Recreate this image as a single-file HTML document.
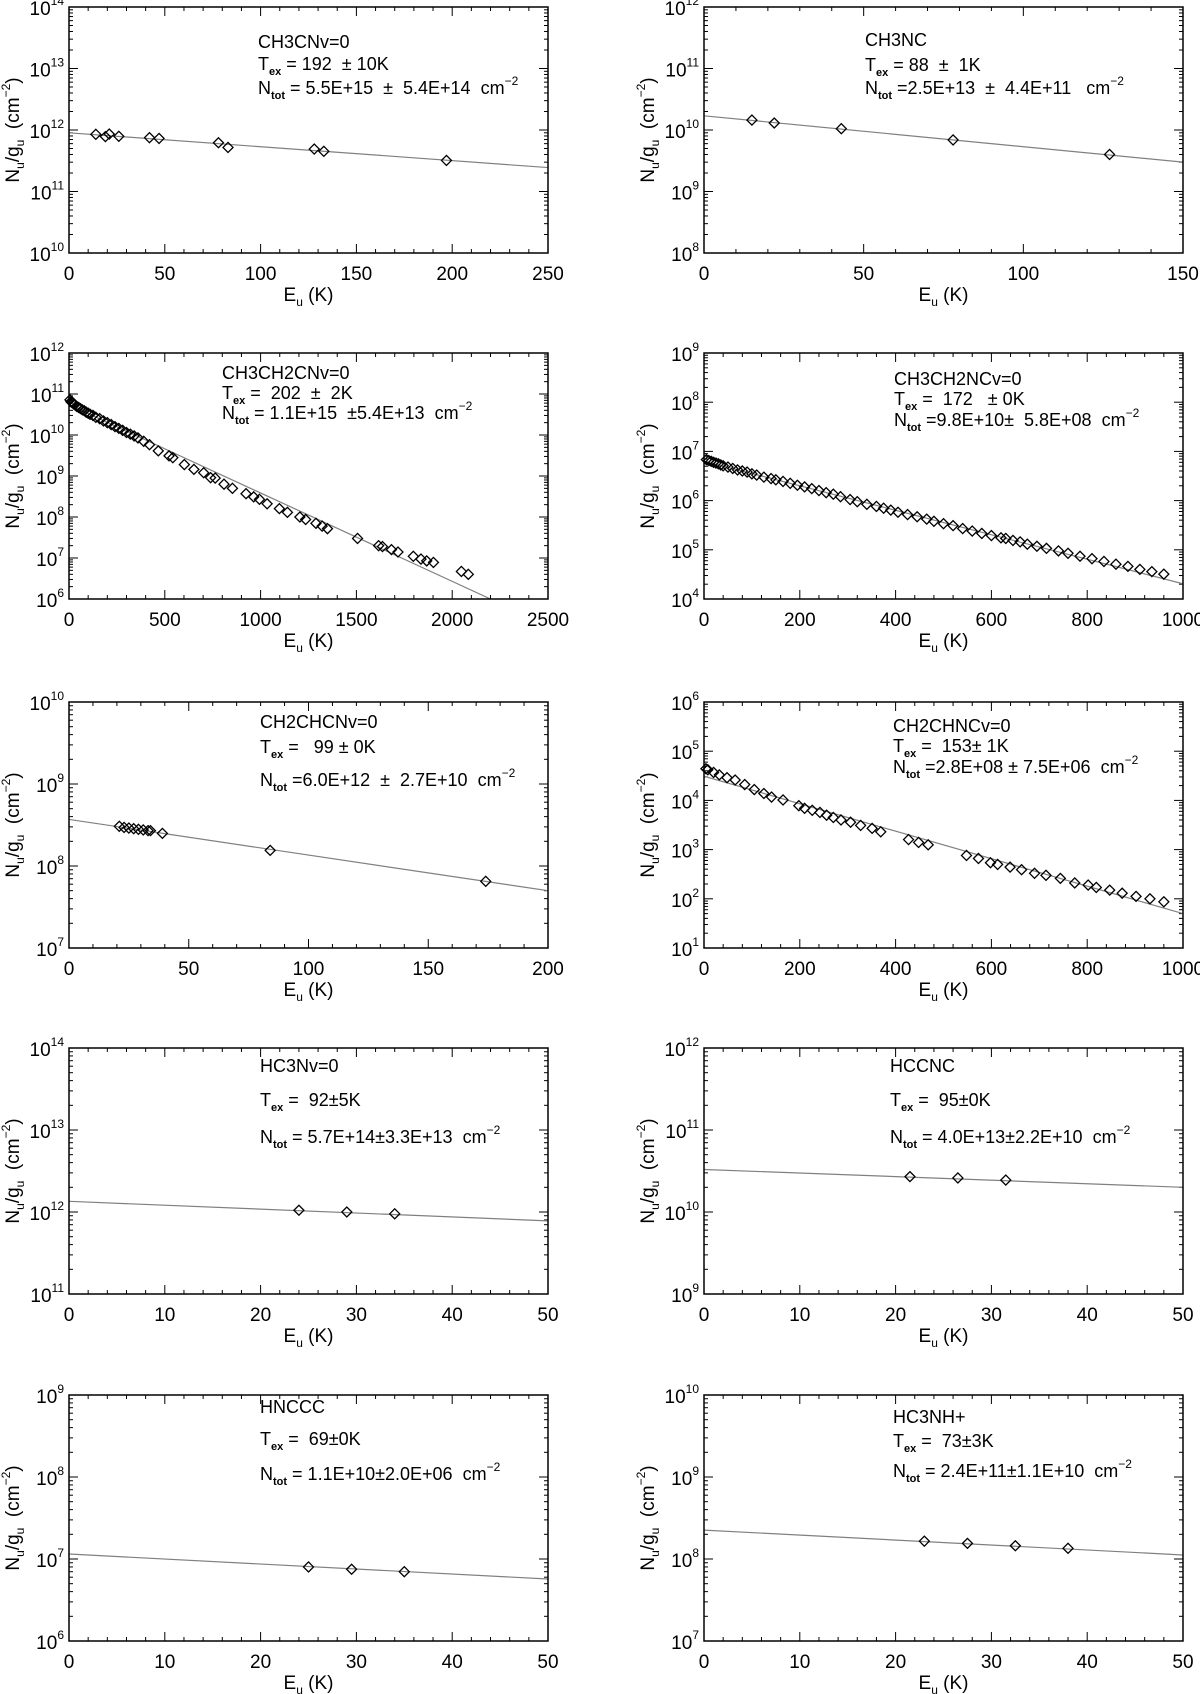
<!DOCTYPE html>
<html><head><meta charset="utf-8"><style>
html,body{margin:0;padding:0;background:#fff}
svg{display:block}
text{font-family:"Liberation Sans",sans-serif;fill:#000;white-space:pre}
</style></head><body>
<svg id="fig" width="1200" height="1694" viewBox="0 0 1200 1694" xmlns="http://www.w3.org/2000/svg" xml:space="preserve"></svg>
<script>
// ---- data (energies in K, N_u/g_u in cm^-2) ----
const p1E = [14,19,21,26,42,47,78,83,128,133,197];
const p1N = [8.5e11,7.8e11,8.6e11,7.9e11,7.5e11,7.3e11,6.2e11,5.2e11,4.9e11,4.5e11,3.2e11];
const p1LineE = [0,250];
const p1LineN = [9e11,2.45e11];

const p2E = [15,22,43,78,127];
const p2N = [1.45e10,1.3e10,1.05e10,6.9e9,4.0e9];
const p2LineE = [0,150];
const p2LineN = [1.7e10,3.0e9];

const p3E = [5,10,15,20,25,30,40,50,60,70,80,90,100,110,125,140,160,180,200,220,240,260,280,300,320,340,360,390,420,466,522,542,602,652,703,739,763,809,853,924,964,994,1034,1098,1140,1205,1235,1289,1321,1349,1506,1616,1636,1683,1717,1797,1837,1867,1902,2048,2084];
const p3N = [7.2e10,6.5e10,6.2e10,6e10,5.7e10,5.5e10,5e10,4.7e10,4.4e10,4.1e10,3.9e10,3.6e10,3.4e10,3.2e10,3.0e10,2.7e10,2.5e10,2.2e10,2.0e10,1.8e10,1.6e10,1.45e10,1.3e10,1.15e10,1.05e10,9.5e9,8.5e9,7e9,5.8e9,4.1e9,3.1e9,2.8e9,1.9e9,1.45e9,1.2e9,9.1e8,8.9e8,6.3e8,5e8,3.7e8,3.1e8,2.7e8,2.1e8,1.6e8,1.3e8,1e8,8.7e7,7e7,6e7,5.2e7,3e7,2e7,1.9e7,1.6e7,1.4e7,1.1e7,9.4e6,8.5e6,7.8e6,4.7e6,4e6];
const p3LineE = [0,2200];
const p3LineN = [5.5e10,1e6];

const p4E = [5,10,15,20,25,30,35,40,50,60,70,80,90,100,110,125,140,150,165,180,195,210,225,240,255,270,285,305,320,340,360,375,390,405,425,445,465,480,500,520,540,560,580,600,620,630,645,660,675,695,715,740,760,785,810,835,860,885,910,935,960];
const p4N = [6.8e6,6.5e6,6.3e6,6.0e6,5.8e6,5.6e6,5.3e6,5.1e6,4.8e6,4.5e6,4.2e6,4.0e6,3.8e6,3.5e6,3.3e6,3.0e6,2.8e6,2.65e6,2.45e6,2.25e6,2.05e6,1.9e6,1.75e6,1.6e6,1.45e6,1.35e6,1.2e6,1.05e6,9.5e5,8.4e5,7.6e5,7e5,6.4e5,5.8e5,5.2e5,4.7e5,4.2e5,3.8e5,3.4e5,3.1e5,2.7e5,2.4e5,2.15e5,1.95e5,1.75e5,1.7e5,1.55e5,1.45e5,1.3e5,1.18e5,1.07e5,9.5e4,8.5e4,7.4e4,6.6e4,5.8e4,5.1e4,4.6e4,4e4,3.6e4,3.2e4];
const p4LineE = [0,1000];
const p4LineN = [6.3e6,2.04e4];

const p5E = [21,23,25,27,29,31,33,34,39,84,174];
const p5N = [3.05e8,2.95e8,2.9e8,2.85e8,2.8e8,2.75e8,2.7e8,2.7e8,2.5e8,1.55e8,6.5e7];
const p5LineE = [0,200];
const p5LineN = [3.7e8,5e7];

const p6E = [4,8,20,32,48,65,85,105,125,141,165,198,210,226,242,256,270,286,306,327,351,369,427,448,468,548,573,598,613,639,663,690,714,744,774,802,819,847,873,902,931,960];
const p6N = [4.4e4,4.2e4,3.7e4,3.3e4,2.9e4,2.6e4,2.1e4,1.66e4,1.38e4,1.17e4,1.02e4,7.8e3,6.9e3,6.3e3,5.7e3,5.0e3,4.5e3,4.0e3,3.6e3,3.1e3,2.7e3,2.3e3,1.6e3,1.4e3,1.25e3,7.6e2,6.6e2,5.4e2,5.0e2,4.4e2,3.9e2,3.3e2,3.0e2,2.6e2,2.1e2,1.9e2,1.7e2,1.5e2,1.3e2,1.12e2,1e2,8.7e1];
const p6LineE = [0,1000];
const p6LineN = [3.1e4,50];

const p7E = [24,29,34];
const p7N = [1.05e12,1e12,9.5e11];
const p7LineE = [0,50];
const p7LineN = [1.35e12,7.8e11];

const p8E = [21.5,26.5,31.5];
const p8N = [2.7e10,2.6e10,2.45e10];
const p8LineE = [0,50];
const p8LineN = [3.3e10,2e10];

const p9E = [25,29.5,35];
const p9N = [8e6,7.5e6,7e6];
const p9LineE = [0,50];
const p9LineN = [1.15e7,5.7e6];

const p10E = [23,27.5,32.5,38];
const p10N = [1.65e8,1.55e8,1.45e8,1.35e8];
const p10LineE = [0,50];
const p10LineN = [2.25e8,1.12e8];

const xTicks1 = [0,50,100,150,200,250];
const xTicks2 = [0,50,100,150];
const xTicks3 = [0,500,1000,1500,2000,2500];
const xTicks4 = [0,200,400,600,800,1000];
const xTicks5 = [0,50,100,150,200];
const xTicks6 = [0,200,400,600,800,1000];
const xTicks50 = [0,10,20,30,40,50];

const yDecades1 = [10,14], yDecades2 = [8,12], yDecades3 = [6,12], yDecades4 = [4,9],
      yDecades5 = [7,10], yDecades6 = [1,6], yDecades7 = [11,14], yDecades8 = [9,12],
      yDecades9 = [6,9], yDecades10 = [7,10];

const labels1 = ["CH3CNv=0","192  \u00b1 10K","5.5E+15  \u00b1  5.4E+14  cm"];
const labels2 = ["CH3NC","88  \u00b1  1K","2.5E+13  \u00b1  4.4E+11   cm"];
const labels3 = ["CH3CH2CNv=0"," 202  \u00b1  2K","1.1E+15  \u00b15.4E+13  cm"];
const labels4 = ["CH3CH2NCv=0"," 172   \u00b1 0K","9.8E+10\u00b1  5.8E+08  cm"];
const labels5 = ["CH2CHCNv=0","  99 \u00b1 0K","6.0E+12  \u00b1  2.7E+10  cm"];
const labels6 = ["CH2CHNCv=0"," 153\u00b1 1K","2.8E+08 \u00b1 7.5E+06  cm"];
const labels7 = ["HC3Nv=0"," 92\u00b15K","5.7E+14\u00b13.3E+13  cm"];
const labels8 = ["HCCNC"," 95\u00b10K","4.0E+13\u00b12.2E+10  cm"];
const labels9 = ["HNCCC"," 69\u00b10K","1.1E+10\u00b12.0E+06  cm"];
const labels10 = ["HC3NH+"," 73\u00b13K","2.4E+11\u00b11.1E+10  cm"];

// ---- layout ----
const L = [69,548], R = [704,1183];
const rowsTop = [7,353,702,1048,1395], H = 246;
const panels = [
 {c:L,r:0,E:p1E,N:p1N,lE:p1LineE,lN:p1LineN,xt:xTicks1,yd:yDecades1,lab:labels1,tx:258,ty:[42,64,88],nEq:"= "},
 {c:R,r:0,E:p2E,N:p2N,lE:p2LineE,lN:p2LineN,xt:xTicks2,yd:yDecades2,lab:labels2,tx:865,ty:[40,65,88],nEq:"="},
 {c:L,r:1,E:p3E,N:p3N,lE:p3LineE,lN:p3LineN,xt:xTicks3,yd:yDecades3,lab:labels3,tx:222,ty:[373,393,413],nEq:"= "},
 {c:R,r:1,E:p4E,N:p4N,lE:p4LineE,lN:p4LineN,xt:xTicks4,yd:yDecades4,lab:labels4,tx:894,ty:[379,399,420],nEq:"="},
 {c:L,r:2,E:p5E,N:p5N,lE:p5LineE,lN:p5LineN,xt:xTicks5,yd:yDecades5,lab:labels5,tx:260,ty:[722,747,780],nEq:"="},
 {c:R,r:2,E:p6E,N:p6N,lE:p6LineE,lN:p6LineN,xt:xTicks6,yd:yDecades6,lab:labels6,tx:893,ty:[726,746,767],nEq:"="},
 {c:L,r:3,E:p7E,N:p7N,lE:p7LineE,lN:p7LineN,xt:xTicks50,yd:yDecades7,lab:labels7,tx:260,ty:[1066,1100,1137],nEq:"= "},
 {c:R,r:3,E:p8E,N:p8N,lE:p8LineE,lN:p8LineN,xt:xTicks50,yd:yDecades8,lab:labels8,tx:890,ty:[1066,1100,1137],nEq:"= "},
 {c:L,r:4,E:p9E,N:p9N,lE:p9LineE,lN:p9LineN,xt:xTicks50,yd:yDecades9,lab:labels9,tx:260,ty:[1407,1439,1474],nEq:"= "},
 {c:R,r:4,E:p10E,N:p10N,lE:p10LineE,lN:p10LineN,xt:xTicks50,yd:yDecades10,lab:labels10,tx:893,ty:[1417,1441,1471],nEq:"= "}
];

const NS = "http://www.w3.org/2000/svg";
const fig = document.getElementById("fig");
function mk(tag, attrs, parent){
  const e = document.createElementNS(NS, tag);
  for (const k in attrs) e.setAttribute(k, attrs[k]);
  (parent||fig).appendChild(e);
  return e;
}
function ts(parent, txt, attrs){
  const t = document.createElementNS(NS,"tspan");
  for (const k in (attrs||{})) t.setAttribute(k, attrs[k]);
  t.textContent = txt;
  parent.appendChild(t);
  return t;
}

panels.forEach((p, i) => {
  const x0 = p.c[0], x1 = p.c[1], y0 = rowsTop[p.r], y1 = y0 + H;
  const xmin = p.xt[0], xmax = p.xt[p.xt.length-1];
  const dmin = p.yd[0], dmax = p.yd[1];
  const xs = v => x0 + (v - xmin) / (xmax - xmin) * (x1 - x0);
  const ys = v => y1 - (Math.log10(v) - dmin) / (dmax - dmin) * (y1 - y0);
  const g = mk("g", {});
  
  
  const clipId = "clip" + i;
  const cp = mk("clipPath", {id: clipId}, g);
  mk("rect", {x:x0, y:y0, width:x1-x0, height:y1-y0}, cp);

  const tk = mk("g", {stroke:"#000","stroke-width":1}, g);
  
  
  const step = p.xt[1]-p.xt[0];
  for (let k = 0; k < p.xt.length; k++) {
    const X = xs(p.xt[k]);
    mk("line",{x1:X,y1:y1,x2:X,y2:y1-9},tk);
    mk("line",{x1:X,y1:y0,x2:X,y2:y0+9},tk);
    if (k < p.xt.length-1) for (let m=1;m<5;m++){
      const Xm = xs(p.xt[k]+step*m/5);
      mk("line",{x1:Xm,y1:y1,x2:Xm,y2:y1-4},tk);
      mk("line",{x1:Xm,y1:y0,x2:Xm,y2:y0+4},tk);
    }
    const tl = mk("text",{x:X,y:y1+27,"font-size":19,"text-anchor":"middle"},g);
    
    
    tl.textContent = p.xt[k];
  }
  for (let d = dmin; d <= dmax; d++) {
    const Y = ys(Math.pow(10,d));
    mk("line",{x1:x0,y1:Y,x2:x0+9,y2:Y},tk);
    mk("line",{x1:x1,y1:Y,x2:x1-9,y2:Y},tk);
    if (d < dmax) for (let m=2;m<10;m++){
      const Ym = ys(m*Math.pow(10,d));
      mk("line",{x1:x0,y1:Ym,x2:x0+4,y2:Ym},tk);
      mk("line",{x1:x1,y1:Ym,x2:x1-4,y2:Ym},tk);
    }
    const yl = mk("text",{x:x0-5,y:Y+8,"font-size":19,"text-anchor":"end"},g);
    
    
    ts(yl,"10");
    ts(yl,String(d),{"font-size":12,dy:-10});
  }

  const fl = mk("line",{x1:xs(p.lE[0]),y1:ys(p.lN[0]),x2:xs(p.lE[1]),y2:ys(p.lN[1]),stroke:"#808080","stroke-width":1.2,"clip-path":"url(#"+clipId+")"},g);
  
  

  p.E.forEach((e, j) => {
    const X = xs(e), Y = ys(p.N[j]), s = 5;
    const pt = mk("path",{d:`M${X-s} ${Y}L${X} ${Y-s}L${X+s} ${Y}L${X} ${Y+s}Z`,fill:"none",stroke:"#000","stroke-width":1.3},g);
    
    
  });

  const fr = mk("rect",{x:x0,y:y0,width:x1-x0,height:y1-y0,fill:"none",stroke:"#000","stroke-width":1.5},g);
  
  

  const xt = mk("text",{x:(x0+x1)/2,y:y1+48,"font-size":19,"text-anchor":"middle"},g);
  
  
  ts(xt,"E"); ts(xt,"u",{"font-size":12,dy:5}); ts(xt," (K)",{dy:-5});
  const yc = (y0+y1)/2, yx = x0-50;
  const yt = mk("text",{x:yx,y:yc,"font-size":19,"text-anchor":"middle",transform:`rotate(-90 ${yx} ${yc})`},g);
  
  
  ts(yt,"N"); ts(yt,"u",{"font-size":12,dy:5}); ts(yt,"/g",{dy:-5}); ts(yt,"u",{"font-size":12,dy:5});
  ts(yt,"  (cm",{dy:-5}); ts(yt,"\u22122",{"font-size":12,dy:-9}); ts(yt,")",{dy:9});

  const a = mk("g",{"font-size":18},g);
  
  
  const t1 = mk("text",{x:p.tx,y:p.ty[0]+6},a); t1.textContent = p.lab[0];
  const t2 = mk("text",{x:p.tx,y:p.ty[1]+6},a);
  ts(t2,"T"); ts(t2,"ex",{"font-size":11,dy:5,"font-weight":"bold"}); ts(t2," = "+p.lab[1],{dy:-5});
  const t3 = mk("text",{x:p.tx,y:p.ty[2]+6},a);
  ts(t3,"N"); ts(t3,"tot",{"font-size":11,dy:5,"font-weight":"bold"}); ts(t3," "+p.nEq+p.lab[2],{dy:-5});
  ts(t3,"\u22122",{"font-size":12,dy:-9});
});
</script>
</body></html>
